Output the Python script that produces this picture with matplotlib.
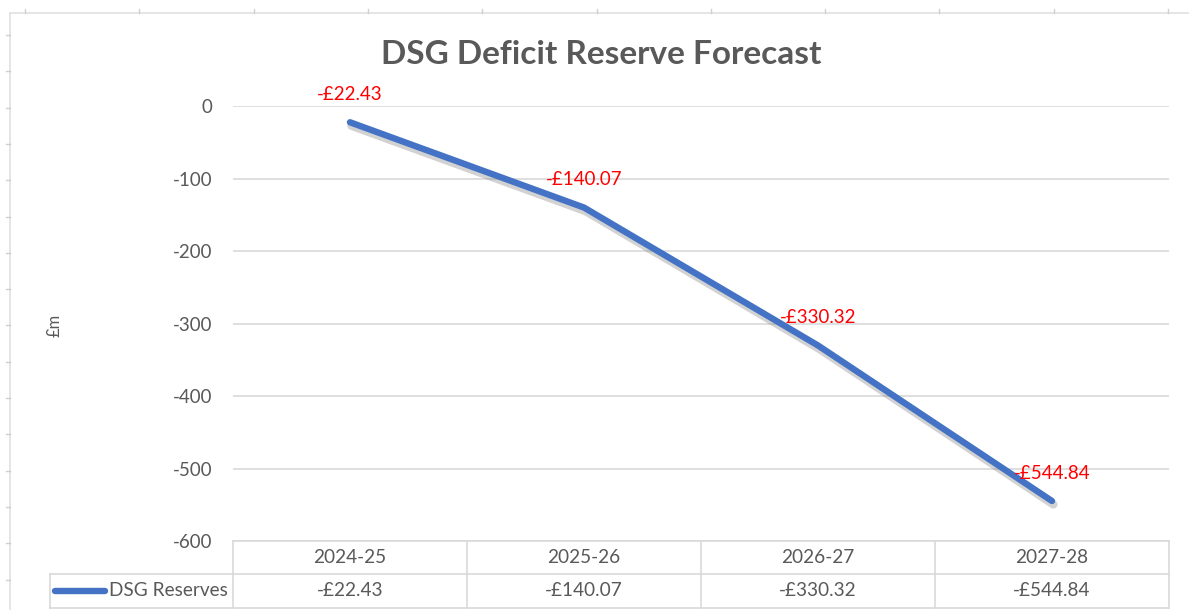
import matplotlib.pyplot as plt
import matplotlib.patheffects as pe
from matplotlib.lines import Line2D

years = ["2024-25", "2025-26", "2026-27", "2027-28"]
reserves = [-22.43, -140.07, -330.32, -544.84]
labels = ["-£22.43", "-£140.07", "-£330.32", "-£544.84"]
yticks = [0, -100, -200, -300, -400, -500, -600]

grey = "#595959"
border = "#D9D9D9"
blue = "#4472C4"
plt.rcParams['font.family'] = ['Lato', 'DejaVu Sans']

fig = plt.figure(figsize=(11.89, 6.10), dpi=100)
W, H = 1189, 610

def fx(px):
	return px / W

def fy(py):
	return 1 - py / H

# spreadsheet cell border behind the chart
fig.add_artist(Line2D([fx(10), 1], [fy(13), fy(13)], color="#E0E0E0", lw=1.2))
fig.add_artist(Line2D([fx(10), fx(10)], [fy(13), 0], color="#E0E0E0", lw=1.2))
for i in range(11):
	x = 25 + i * 114.3
	fig.add_artist(Line2D([fx(x), fx(x)], [fy(9), fy(13)], color="#D0D0D0", lw=1))
for i in range(17):
	y = 35 + i * 36.3
	fig.add_artist(Line2D([fx(6), fx(10)], [fy(y), fy(y)], color="#D0D0D0", lw=1))

ax = fig.add_axes([fx(233), fy(541), fx(1169) - fx(233), fy(106) - fy(541)])
xs = list(range(len(years)))
ax.plot(xs, reserves, color=blue, lw=4.6, solid_capstyle="round", clip_on=False,
	path_effects=[pe.SimpleLineShadow(offset=(1.0, -2.5), shadow_color="#7F7F7F", alpha=0.35, linewidth=6),
	pe.Normal()])
ax.set_xlim(-0.5, 3.5)
ax.set_ylim(-600, 0)
ax.set_yticks(yticks)
ax.set_yticklabels([str(t) for t in yticks])
ax.set_xticks([])
ax.grid(axis="y", color=border, lw=1.2)
ax.set_axisbelow(True)
for s in ax.spines.values():
	s.set_visible(False)
ax.tick_params(axis="y", length=0, pad=15, labelsize=13.5, labelcolor=grey)

for x, v, t in zip(xs, reserves, labels):
	ax.annotate(t, (x, v), xytext=(0, 20), textcoords="offset points", ha="center",
		va="center", color="#FF0000", fontsize=13.5, annotation_clip=False)

fig.text(fx(601), fy(55), "DSG Deficit Reserve Forecast", fontsize=24, fontweight="bold",
	color=grey, ha="center", va="center")
fig.text(fx(55), fy(325), "£m", rotation=90, ha="center", va="center", color=grey, fontsize=12)

# data table under the plot
tr = ax.get_xaxis_transform()
row1 = -33 / 435
row2 = -67 / 435
left = -0.5 - 183 / 234
tkw = dict(color=border, lw=1.2, transform=tr, clip_on=False)
ax.add_line(Line2D([-0.5, 3.5], [0, 0], **tkw))
ax.add_line(Line2D([left, 3.5], [row1, row1], **tkw))
ax.add_line(Line2D([left, 3.5], [row2, row2], **tkw))
ax.add_line(Line2D([left, left], [row1, row2], **tkw))
for k in range(5):
	ax.add_line(Line2D([k - 0.5, k - 0.5], [0, row2], **tkw))
for x, y, t in zip(xs, years, labels):
	ax.text(x, row1 / 2, y, transform=tr, ha="center", va="center", color=grey, fontsize=13.7)
	ax.text(x, (row1 + row2) / 2, t, transform=tr, ha="center", va="center", color=grey, fontsize=13.7)
ax.add_line(Line2D([left + 5 / 234, left + 55 / 234], [(row1 + row2) / 2] * 2, color=blue, lw=4.6,
	solid_capstyle="round", transform=tr, clip_on=False))
ax.text(left + 59 / 234, (row1 + row2) / 2, "DSG Reserves", transform=tr, ha="left", va="center",
	color=grey, fontsize=13.7)

fig.savefig("out.png", dpi=100)
